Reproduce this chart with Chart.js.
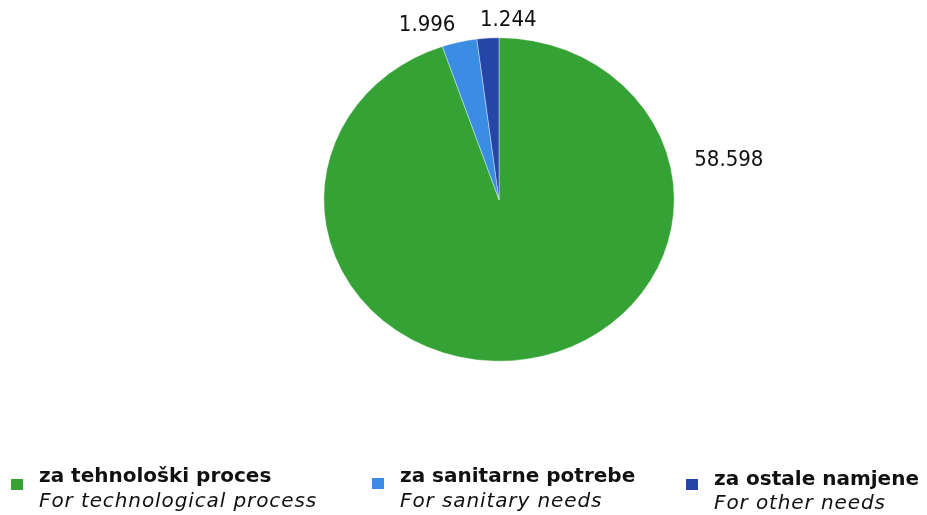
<!DOCTYPE html>
<html>
<head>
<meta charset="utf-8">
<script src="https://cdn.jsdelivr.net/npm/chart.js@4/dist/chart.umd.min.js"></script>
<style>
  html, body { margin: 0; padding: 0; background: #ffffff; }
  #wrap { position: relative; width: 927px; height: 515px; overflow: hidden; }
  #pie { position: absolute; left: 0; top: 0; }
  .item { position: absolute; font-family: "DejaVu Sans", sans-serif; color: #111; }
  .item .sw { position: absolute; width: 12px; height: 11px; }
  .item .l1 { position: absolute; white-space: nowrap; font-weight: bold; font-size: 20px; line-height: 24px; }
  .item .l2 { position: absolute; white-space: nowrap; font-style: italic; font-size: 20px; line-height: 24px; letter-spacing: 0.9px; }
</style>
</head>
<body>
<div id="wrap">
  <canvas id="pie" width="927" height="515"></canvas>
  <div id="legend"></div>
</div>
<script>
// Water use by purpose
const categories = ["za tehnološki proces", "za sanitarne potrebe", "za ostale namjene"];
const categoriesEn = ["For technological process", "For sanitary needs", "For other needs"];
const values = [58.598, 1.996, 1.244];
const valueLabels = ["58.598", "1.996", "1.244"];
const colors = ["#35a236", "#3b8de3", "#2545a8"];

// Legend entries along the bottom
const legendSlots = [
  { left: 10.5, top: 463,   swatchTop: 16.3 },
  { left: 371.5, top: 463,  swatchTop: 15.3 },
  { left: 685.5, top: 465.5, swatchTop: 13.5 }
];
const legend = document.getElementById('legend');
categories.forEach((name, i) => {
  const s = legendSlots[i];
  const el = document.createElement('div');
  el.className = 'item';
  el.style.left = s.left + 'px';
  el.style.top = s.top + 'px';
  el.innerHTML =
    '<div class="sw" style="left:0;top:' + s.swatchTop + 'px;background:' + colors[i] + '"></div>' +
    '<div class="l1" style="left:28.5px;top:0">' + name + '</div>' +
    '<div class="l2" style="left:28.5px;top:24.5px">' + categoriesEn[i] + '</div>';
  legend.appendChild(el);
});

const STRETCH_X = 175.5 / 162; // pie is drawn slightly wider than tall

const ellipsePlugin = {
  id: 'ellipse',
  beforeDatasetsDraw(chart) {
    const arc = chart.getDatasetMeta(0).data[0];
    const ctx = chart.ctx;
    ctx.save();
    ctx.translate(arc.x, arc.y);
    ctx.scale(STRETCH_X, 1);
    ctx.translate(-arc.x, -arc.y);
  },
  afterDatasetsDraw(chart) {
    chart.ctx.restore();
  }
};

// value labels outside the slices
const labelPlacement = [
  { angle: 75, dx: 26, dy: 3, align: 'left' },
  { angle: null, dx: -4, dy: -17, align: 'right' },
  { angle: null, dx: -8, dy: -18, align: 'left' }
];
const valueLabelPlugin = {
  id: 'valueLabels',
  afterDraw(chart) {
    const ctx = chart.ctx;
    const arcs = chart.getDatasetMeta(0).data;
    ctx.save();
    ctx.font = '22px "DejaVu Sans Condensed", "DejaVu Sans", sans-serif';
    ctx.fillStyle = '#111111';
    ctx.textBaseline = 'middle';
    arcs.forEach((arc, i) => {
      const p = labelPlacement[i];
      let a;
      if (p.angle === null) {
        a = (arc.startAngle + arc.endAngle) / 2;
      } else {
        a = p.angle * Math.PI / 180 - Math.PI / 2;
      }
      const x = arc.x + Math.cos(a) * arc.outerRadius * STRETCH_X;
      const y = arc.y + Math.sin(a) * arc.outerRadius;
      ctx.textAlign = p.align;
      ctx.fillText(valueLabels[i], x + p.dx, y + p.dy);
    });
    ctx.restore();
  }
};

new Chart(document.getElementById('pie'), {
  type: 'pie',
  data: {
    labels: categories,
    datasets: [{
      data: values,
      backgroundColor: colors,
      borderColor: 'rgba(255,255,255,0.6)',
      borderWidth: 0.6,
      hoverOffset: 0
    }]
  },
  options: {
    responsive: false,
    animation: false,
    events: [],
    layout: { padding: { left: 337, right: 266, top: 37, bottom: 153 } },
    plugins: {
      legend: { display: false },
      tooltip: { enabled: false }
    }
  },
  plugins: [ellipsePlugin, valueLabelPlugin]
});
</script>
</body>
</html>
